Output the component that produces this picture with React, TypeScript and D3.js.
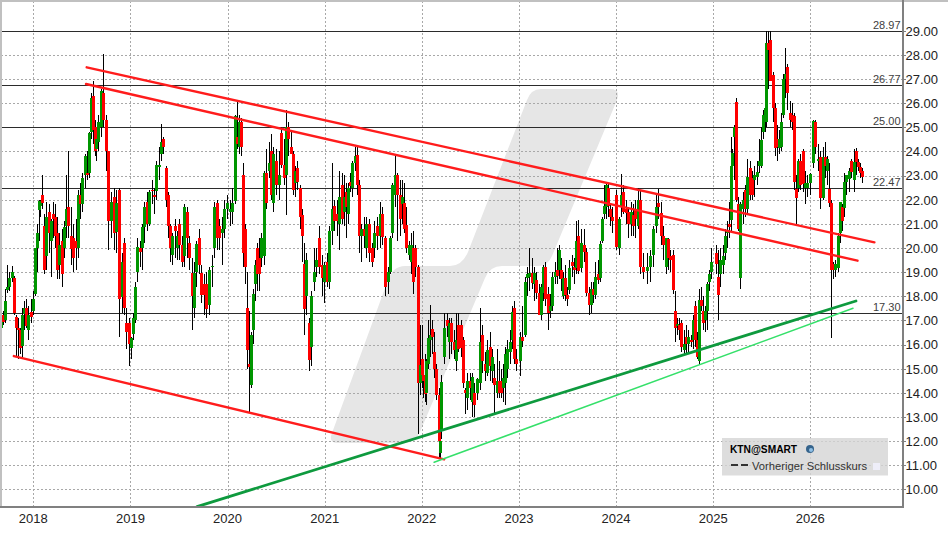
import React from 'react';
import * as d3 from 'd3';

type Candle = [number, number, number, number]; // open, high, low, close
type Anchor = [number, number]; // candle index, fraction of the year

const candles2017: Candle[] = [
  [16.7,17.35,16.3,17.2],[17.2,17.4,16.8,16.95],[17,18.3,16.9,17.8],[18.25,19.3,18.15,18.4],
  [18.4,19,18.2,18.75],[18.75,19.25,18.6,19],[18.75,18.85,17.2,17.3],[17.15,17.2,15.5,16.7],
  [16.7,17.1,15.4,16.6],[16.6,16.7,15.6,15.85],[15.95,17.5,15.4,17.2],[17.25,17.8,16.6,17.5],
  [17.5,17.9,16.7,16.75],[16.6,17.6,16.2,17.2],[17.35,17.9,16.9,17.15],[17.4,18.2,17.2,17.9],
];
const candles2018: Candle[] = [
  [18.1,20,18,20],[20,21,19,20.6],[21.55,22,20.3,21.95],[21.75,22,21.3,21.9],[22.2,23,21.6,21.85],
  [20.9,21.4,18.9,19.1],[19.65,21.9,19.1,21.3],[21.5,21.8,19.8,20.6],[20.3,21.2,18.8,21.1],[21.4,21.9,20.4,21.2],
  [21.3,21.8,20,20.5],[20.6,21.3,18.7,19.1],[19.3,20.6,18.7,20.1],[20.3,20.8,18.4,18.9],[20,21.1,19.6,20.85],
  [20.9,23,20.4,21.6],[21.7,24,20.4,20.9],[20.5,21.7,19.3,19.95],[20.4,21,19,19.6],[20.3,21.2,19.1,20],
  [20,22.4,19.6,22.2],[22.2,22.7,21.2,21.8],[21.8,23.1,21.5,22.9],[23,23.9,22.5,23.8],[23.1,24,22.8,23],
  [23.1,24.8,22.9,24.75],[24.8,26.4,24.5,26.2],[26.3,26.9,24.3,24.9],[25,25.3,23.8,24],[24.1,25,23.6,24.5],
  [24.4,25.5,24,25.2],[25,26.6,24.6,26.5],[26.4,28.05,25,25.3],[25.3,25.5,23.2,24],[24,24,19.9,21.1],
  [21.1,22.3,20.4,21.9],[22.1,22.5,19.9,20.6],[20.65,22.4,19.8,21.85],[22.4,22.5,16.3,17.9],[17.95,19.8,17.3,19.4],
  [20.2,20.4,17.2,17.5],[16.9,17.5,15.8,16.5],[16.9,17.1,15.1,16],
];
const candles2019: Candle[] = [
  [15.85,16.3,15.4,16.25],[16.45,17.3,16.2,17.1],[17,18.6,16.9,18.4],[19,20.4,18.6,20.05],[20,20.3,19.2,19.85],
  [20,21,19.1,20.85],[20.85,21.9,20.2,21.7],[21.9,22.3,20.7,21],[21,22.4,20.9,22.3],[22.4,22.8,21.8,22.35],
  [22.2,22.5,21.4,22.1],[22.35,23.6,22,23.45],[23.35,24.2,22.8,23.45],[23.9,25.15,23.6,24.4],[24.5,24.6,23.9,24.2],
  [23.3,23.4,21.7,22],[22.2,22.3,20.4,20.9],[20.9,21,19.4,20],[19.7,20.6,19.3,20.5],[20.9,21.2,19.6,20.7],
  [20,20.7,19.5,20.5],[21,21.2,19.5,20.1],[20.1,20.5,19.2,19.4],[19.65,21.8,19.2,21.7],[21.5,21.7,19.6,20.4],
  [20.2,20.5,19.1,19.6],[18.95,19.6,16.6,18],[17.5,19.4,17.1,18.95],[19,20.3,18.4,20.15],[20.4,20.8,18.9,19.3],
  [18.95,19.3,17.7,18.05],[18.5,18.9,17.2,18.05],[18.5,19,17.1,17.45],[17.65,19.2,17.2,19.1],[19.2,19.7,18.4,19.25],
  [20,21.9,19.6,21.7],[21.85,22,19.9,20.4],[20.9,21.2,19.9,20.4],[20.6,21.3,19.3,20.8],[20.8,22,20.4,21.6],[21.6,22.2,21.2,21.85],
];
const candles2020: Candle[] = [
  [21.5,22,20.9,21.6],[21.5,22.5,21,21.85],[21.95,25.5,21.8,25.45],[24.6,26.05,24.1,24.3],[24.2,25.5,23.9,25.2],
  [25.2,25.4,23.8,24.2],[23,23.5,19.2,19.8],[20.8,21,18.5,19.2],[17.5,19,15,15.75],[15.2,17.4,13.2,15.05],
  [14.3,16.5,14.2,16.4],[16.6,18.3,16,18.1],[18.5,19.5,17.8,19.3],[20,20.2,18.2,18.9],[19.6,20.4,18.2,18.9],
  [19.6,20.6,19.2,20.4],[19.65,23.2,19.3,23.1],[23.1,24.1,21.6,21.85],[23.2,24.4,22.9,23.5],[24,24.7,22,22.2],
  [21.85,24.2,21.5,23.9],[23.6,24.1,22.2,22.6],[22.6,24,22,23],[24.75,25,23.3,23.45],[23.45,24.5,22.6,22.9],
  [23,25.7,21.35,25],[25,25.2,23.8,24.5],[24.2,24.8,23.9,23.9],[23.9,24,22.2,22.4],[22.7,23.4,22.1,23.2],
  [23.3,23.6,22.4,22.75],[22.5,22.6,20.8,21.3],[21.35,21.6,19.4,20.5],[19.35,20.2,16.4,17.45],[18,19.8,17.2,19.5],
  [16.9,17.1,14.9,15.35],[15.9,18.2,15.1,18],[18.6,20,18.2,19],[19.2,20,18.8,19.5],[20.4,20.9,18.9,19.2],
  [19.3,19.7,18,18.75],[18.6,19.4,17.7,19.3],
];
const candles2021: Candle[] = [
  [19.4,19.8,18.4,18.6],[18.6,20.9,18.3,20.7],[20.7,23.5,20.1,21.6],[21.75,22,20.7,21.1],[21.4,22,20.5,21.1],
  [21,23.2,19.9,22.1],[22.6,23.1,21,21.2],[21.5,23,20.9,22.1],[22.3,22.7,20.4,21.7],[21.4,22.7,21,22.5],
  [22.75,23.1,22.3,22.55],[22.5,23.6,22.1,23.5],[23.5,24.2,23.2,23.8],[23.85,24.2,22.2,22.6],[22.6,22.8,19.8,20.5],
  [20.5,21,19.4,20.8],[20.8,21.3,20,20.5],[20,21.3,19.6,21],[21,21.2,19.4,19.8],[20,20.2,19.2,19.4],
  [20,21.1,19.6,20.6],[20.9,21.3,19.9,20.5],[20.5,21.9,20,21.4],[21.4,21.7,20.1,20.45],[20.4,20.5,18,18.4],
  [18.6,19.2,18.1,19],[19,20.5,18.9,20.4],[20.6,22.7,20.4,22.6],[22.2,23.85,21.7,23],[23,23.1,20.3,22.2],
  [22.2,22.8,20.5,21.2],[21.8,22.8,21,22.1],[21.85,22.7,20.6,20.8],[20.95,21.7,19.8,20],[19.7,20.3,19.5,20.1],
  [19.4,20.6,18.9,20.1],[20,20.7,18.1,18.6],[20,20.1,18.8,19.2],[19.2,19.3,12.3,14.4],
];
const candles2022: Candle[] = [
  [14.4,16.8,13.9,15.15],[15.4,16.8,14.2,14.75],[14.75,15.2,13.8,14.5],[14.6,15.6,13.6,13.95],[14,15.4,13.5,15.3],
  [15.2,17,15,16.25],[16.2,17.65,15.5,16.4],[16.65,17,15.6,16.3],[15.7,16.5,14.6,15],[15,15.2,13.7,13.9],
  [13.9,14.2,11.3,12],[11.5,12.2,11.25,12],[12.4,14.75,12.1,14.45],[15.5,17.3,15.2,16.7],[17,17.3,16.3,16.75],
  [16.1,17.1,15.4,16.9],[16.9,17.1,15.6,16.1],[16.1,16.6,15.4,15.75],[15.3,17.3,14.9,16.2],[16.8,17.3,15.7,15.8],
  [16.8,17,15.5,15.85],[16.2,16.3,14.2,14.4],[14.1,14.2,13.1,14],[13.8,14.8,13.3,14.5],[14.5,14.8,13.7,14.2],
  [13.6,14.8,13,14.65],[14,14.4,13,13.5],[14,14.6,13.7,14.55],[14.4,17.5,14.1,16.1],[16.4,16.8,14.8,15.3],
  [15.2,15.7,14.5,14.9],[14.8,16.2,14.7,15.75],[15.9,16.5,14.5,15.1],[14.9,15.8,14.4,15.5],[14.6,15.2,13.1,14.3],
  [14,15.8,13.8,14.5],[14.5,15.3,13.8,14],[14.5,15,13.8,14],[14.2,15.2,13.6,14.6],[14.4,15.9,13.5,15.6],
  [15,16.2,14.6,15.8],[15.7,16.6,15.2,16.1],[16.2,17.6,15.8,17.35],[17.5,17.8,15.2,15.4],[15.4,15.8,14.9,15.2],
];
const candles2023: Candle[] = [
  [15.3,16.5,14.7,16.3],[16.3,17.6,15.9,16.15],[16.4,18.8,16.3,18.6],[18.75,19.2,18,18.9],[18.8,20,18.2,18.95],
  [18.95,19.6,18.3,18.55],[18.5,19.2,17.8,18.95],[18.65,19,17.9,18.15],[18.15,18.5,17.2,17.2],[17.2,18.5,17,18.4],
  [18.15,19.3,17.8,19.2],[19.2,19.4,17.6,17.9],[18.1,18.4,16.6,17.3],[17.4,18.1,17.1,17.6],[17.6,19,17.4,18.8],
  [18.8,19.4,18.5,19],[19.1,20,18.5,18.85],[19.1,20.1,18.7,19.9],[19.1,19.6,18.2,18.7],[18,19,17.9,18.75],
  [18.75,19.3,17.8,18.05],[18.05,18.4,17.6,17.9],[18.25,19.5,18.1,19.15],[19.4,19.7,18.8,19.25],[19.2,19.6,18.5,19.1],
  [19.15,21.1,18.9,20.3],[20.5,21.15,18.9,19.05],[19.15,20.8,19,20.2],[20.1,20.8,19.4,19.85],[19.85,20,18,18.15],
  [18.15,18.4,17.2,17.65],[17.65,18.6,17.3,18.3],[18.3,18.6,17.7,18.05],[18.05,19.4,17.9,18.8],[18.9,19.5,18.5,18.65],
  [18.75,20.3,18.6,20.15],[20.3,21.3,20.2,21.2],[21.4,22.6,21.2,21.75],[21.7,22.7,21.2,22.6],[22.5,22.7,21.3,21.75],
  [21.6,21.8,20.9,21.3],[21.3,21.7,20.6,21.1],
];
const candles2024: Candle[] = [
  [22.2,22.4,19.9,20.05],[20,21.3,19.7,21.2],[21.7,23.05,21.3,22.2],[22.3,22.6,21.4,21.5],[21.6,22,21,21.45],
  [21.5,21.7,20.4,21],[21,21.9,20.5,21.5],[21.35,21.8,20.5,20.9],[21.6,22,20.4,21.2],[20.9,22.5,20.8,22],
  [22,22.4,18.9,19.2],[19.2,19.8,18.7,19],[19.05,19.8,18.5,19.2],[19.2,19.9,18.6,19.65],[19.7,20.9,19.2,20.8],
  [20.9,22.2,20.6,21.7],[21.85,22.45,21.2,21.7],[21.45,21.9,20.1,20.5],[20.5,20.9,19.5,20.1],[19.2,20.4,18.9,20.4],
  [20.35,20.4,19.1,19.6],[19.65,19.9,19,19.5],[19.7,19.9,18.1,18.25],[17.4,18.2,16.1,16.7],[16.75,17.1,16.4,16.85],
  [16.8,17.1,16.2,16.6],[16.9,17,15.7,15.9],[15.75,16.6,15.6,16],[16.3,16.8,15.6,16],[16,16.6,15.7,16.3],
  [16.2,16.4,15.9,16.1],[16.2,17.2,15.8,17],[17.6,17.8,15.9,16.2],[16.2,16.5,15.4,15.5],[15.3,18.3,15.15,17.85],
  [17.85,18.4,17.4,17.6],[17.4,18,16.6,16.9],[17,17.6,16.5,17.4],[17.4,18.6,16.6,18.5],[18.6,19.1,18.2,18.9],[19,20,18.7,19.4],
];
const candles2025: Candle[] = [
  [19.8,20.1,18.9,19.35],[18.8,19.9,17,18.05],[18.9,20,18.4,19.5],[19.3,20.1,18.9,19.65],[19.8,20.8,19.5,20.5],
  [20.6,21.1,20,20.75],[21,21.9,20.4,20.85],[21.15,24.6,20.7,23.4],[23.4,24.1,22.4,23.95],[24.6,25.1,22.8,25],
  [26.05,26.2,21.9,22],[21.8,22.1,20.7,20.8],[18.75,21.9,18.3,21.8],[21.6,22.3,21,22],[22.4,22.6,21.3,21.6],
  [21.6,23.7,21.4,22.95],[23.3,23.6,22,22.2],[22.9,23.2,22,22.2],[22.8,23.4,22.1,23],[22.95,23.6,22.6,23.15],
  [23.4,24.5,23.1,23.6],[23.4,25,23.3,24.45],[24.8,25.7,24.5,25.5],[25.2,26.2,24.8,25.8],[25.2,29,25,28.5],
  [28.5,29,26.6,28.2],[28.6,28.97,26.9,26.9],[27.15,27.3,25.2,25.8],[25.8,26,23.8,24.15],[24.5,25.1,23.6,24.2],
  [24.15,24.9,23.9,24.5],[24.2,25.6,24,25.2],[25.5,27.2,25.4,27],[27,28.3,26.2,27.2],[27.5,27.6,25.7,26.4],
  [25.6,26.1,25,25.3],[25.5,26,24.9,25.2],[25.45,25.6,22.4,22.75],[22.45,23,21,22.05],[22.5,23.7,22.3,23.6],
  [23.6,23.9,22.4,22.6],[24,24.1,22.3,22.65],[22.5,23.2,21.8,22.7],[22.5,23,22.1,22.7],
];
const candles2026: Candle[] = [
  [22.7,23.1,22.2,23.05],[23.5,25.3,23.3,25.25],[25.2,25.3,23.9,24.2],[23.6,24.3,23.2,23.7],[23.75,24,21.6,22.05],
  [22.05,24.2,22,23.75],[23.75,24.4,22.9,23.4],[23.2,23.8,22.6,23.7],[22.45,23.5,21.7,21.85],[21.85,22,16.25,19.1],
  [19.35,19.4,18.7,19.1],[19.1,19.5,18.8,19.35],[19.15,20.6,19,20.5],[20.6,21.9,20.2,21.9],[21.7,21.8,20.7,21.1],
  [21.65,23.1,21.3,22.75],[22.75,23,22.2,23],[22.85,23.3,22.3,23.2],[23.6,23.7,22.9,23.15],[22.8,24.1,22.3,23.55],
  [24,24.15,23,23.55],[23.55,23.7,23.2,23.35],[23.35,23.5,22.9,23.1],[23.2,23.3,22.7,22.95],
];

// where some candles of a year sit, the ones between are spaced evenly
const dates2017: Anchor[] = [[0,-.333],[15,-.006]];
const dates2018: Anchor[] = [[0,.014],[5,.113],[10,.223],[15,.336],[20,.46],[25,.573],[30,.669],[35,.799],[40,.936],[42,.981]];
const dates2019: Anchor[] = [[0,.003],[5,.117],[10,.244],[15,.364],[20,.477],[25,.604],[30,.731],[35,.861],[40,.991]];
const dates2020: Anchor[] = [[0,.027],[5,.141],[10,.24],[15,.347],[20,.473],[25,.604],[30,.72],[35,.834],[41,.995]];
const dates2021: Anchor[] = [[0,.02],[5,.151],[10,.264],[15,.374],[20,.511],[25,.649],[30,.772],[35,.889],[38,.957]];
const dates2022: Anchor[] = [[0,-.02],[5,.065],[10,.172],[12,.202],[15,.281],[20,.402],[25,.515],[30,.649],[35,.772],[40,.882],[44,.975]];
const dates2023: Anchor[] = [[0,.007],[5,.134],[10,.247],[15,.367],[20,.474],[25,.587],[30,.717],[35,.834],[41,.961]];
const dates2024: Anchor[] = [[0,.003],[5,.124],[10,.25],[15,.409],[20,.539],[25,.647],[30,.768],[35,.875],[40,.981]];
const dates2025: Anchor[] = [[0,.027],[5,.144],[10,.233],[15,.353],[20,.473],[25,.566],[30,.679],[35,.786],[40,.899],[43,.971]];
const dates2026: Anchor[] = [[0,-.003],[5,.127],[10,.237],[15,.347],[20,.47],[23,.528]];

const periods: [number, Candle[], Anchor[]][] = [
  [2018, candles2017, dates2017], [2018, candles2018, dates2018], [2019, candles2019, dates2019],
  [2020, candles2020, dates2020], [2021, candles2021, dates2021], [2022, candles2022, dates2022],
  [2023, candles2023, dates2023], [2024, candles2024, dates2024], [2025, candles2025, dates2025],
  [2026, candles2026, dates2026],
];

const yearTicks = [2018, 2019, 2020, 2021, 2022, 2023, 2024, 2025, 2026];
const priceTicks = d3.range(10, 30);
const levels = [28.97, 26.77, 25.0, 22.47, 17.3];

// trend lines as [year, price] end points
const redUpper: [number, number][] = [[2018.55, 27.48], [2026.66, 20.23]];
const redMiddle: [number, number][] = [[2018.543, 26.79], [2026.486, 19.47]];
const redLower: [number, number][] = [[2017.8, 15.52], [2022.23, 11.24]];
const greenThick: [number, number][] = [[2019.686, 9.28], [2026.47, 17.8]];
const greenThin: [number, number][] = [[2022.127, 11.12], [2026.44, 17.5]];

const x = d3.scaleLinear().domain([2018, 2026]).range([33.3, 810.3]);
const y = d3.scaleLinear().domain([10, 29]).range([489.3, 30.64]);
const fmt = d3.format('.2f');
const line = d3.line<[number, number]>().x(d => x(d[0])).y(d => y(d[1]));
const snap = (v: number) => Math.floor(v + 0.55) + 0.5;

const FONT = '"Liberation Sans", Arial, sans-serif';
const RIGHT = 902.5;
const BOTTOM = 506.5;

// the faint logo behind the chart
const LOGO = `M541 89 L610 89 Q621 89 617 100 L552 256 Q548 266 538 266 L502 266 Q490 266 485 278
  L420 432 Q415 443 405 443 L338 443 Q328 443 332 433 L388 280 Q393 266 405 266 L450 266
  Q462 266 468 252 L527 100 Q531 89 541 89 Z`;

const candleMarks = periods.flatMap(([year, list, dates]) => {
  const when = d3.scaleLinear().domain(dates.map(d => d[0])).range(dates.map(d => d[1]));
  return list.map((c, i) => ({ cx: Math.round(x(year + when(i))), c }));
});

export default function App() {
  return (
    <svg
      width={948}
      height={534}
      style={{ position: 'absolute', left: 0, top: 0, background: '#fff' }}
      fontFamily={FONT}
    >
      <path d={LOGO} fill="#e6e6e6" />

      <g shapeRendering="crispEdges" stroke="#a8a8a8" strokeDasharray="2 2">
        {priceTicks.map(t => <line key={t} x1={1} x2={RIGHT} y1={snap(y(t))} y2={snap(y(t))} />)}
        {yearTicks.map(t => <line key={t} x1={Math.round(x(t)) + 0.5} x2={Math.round(x(t)) + 0.5} y1={1} y2={BOTTOM} />)}
      </g>

      <g shapeRendering="crispEdges" stroke="#2b2b2b">
        {levels.map(l => <line key={l} x1={1} x2={RIGHT} y1={snap(y(l))} y2={snap(y(l))} />)}
      </g>

      <g shapeRendering="crispEdges">
        {candleMarks.map(({ cx, c: [, h, l] }, i) => (
          <line key={i} x1={cx + 0.5} x2={cx + 0.5} y1={y(h)} y2={y(l)} stroke="#000" />
        ))}
        {candleMarks.map(({ cx, c: [o, , , cl] }, i) => (
          <rect
            key={i}
            x={cx - 1}
            width={3}
            y={y(Math.max(o, cl))}
            height={Math.max(1, Math.abs(y(o) - y(cl)))}
            fill={cl >= o ? '#009600' : '#ff0000'}
          />
        ))}
      </g>

      <g fill="none" strokeLinecap="round">
        <path d={line(redUpper)!} stroke="#ff1c1c" strokeWidth={2.4} />
        <path d={line(redMiddle)!} stroke="#ff1c1c" strokeWidth={2.4} />
        <path d={line(redLower)!} stroke="#ff1c1c" strokeWidth={2.4} />
        <path d={line(greenThick)!} stroke="#0e9a3e" strokeWidth={2.8} />
        <path d={line(greenThin)!} stroke="#35e06a" strokeWidth={1.5} />
      </g>

      <g shapeRendering="crispEdges">
        <rect x={0} y={0} width={948} height={1.5} fill="#c0c0c0" />
        <rect x={0} y={0} width={1.5} height={BOTTOM} fill="#c0c0c0" />
        <rect x={0} y={BOTTOM - 1} width={RIGHT + 1} height={2} fill="#808080" />
        <rect x={RIGHT - 1} y={0} width={2} height={BOTTOM + 1} fill="#808080" />
        {priceTicks.map(t => <line key={t} x1={RIGHT} x2={RIGHT + 3} y1={snap(y(t))} y2={snap(y(t))} stroke="#808080" />)}
      </g>

      <g fontSize={11} fill="#404040" textAnchor="end">
        {levels.map(l => <text key={l} x={900.5} y={snap(y(l)) - 3}>{fmt(l)}</text>)}
      </g>
      <g fontSize={13} fill="#222">
        {priceTicks.map(t => <text key={t} x={905.5} y={y(t) + 5}>{fmt(t)}</text>)}
      </g>
      <g fontSize={13} fill="#222" textAnchor="middle">
        {yearTicks.map(t => <text key={t} x={x(t)} y={523}>{t}</text>)}
      </g>

      <g>
        <rect x={722} y={438} width={166} height={37.5} fill="#d4d4d4" fillOpacity={0.8} />
        <text x={730} y={453} fontSize={10.2} fontWeight="bold" fill="#000">KTN@SMART</text>
        <circle cx={810} cy={449} r={4} fill="#36648c" />
        <circle cx={811} cy={450} r={2} fill="#8fc0e6" />
        <line x1={731} x2={748} y1={465} y2={465} stroke="#333" strokeWidth={2} strokeDasharray="7 3" />
        <text x={752} y={470} fontSize={11.2} fill="#333">Vorheriger Schlusskurs</text>
        <rect x={873} y={463} width={7} height={7} fill="#eeeef9" />
      </g>
    </svg>
  );
}
